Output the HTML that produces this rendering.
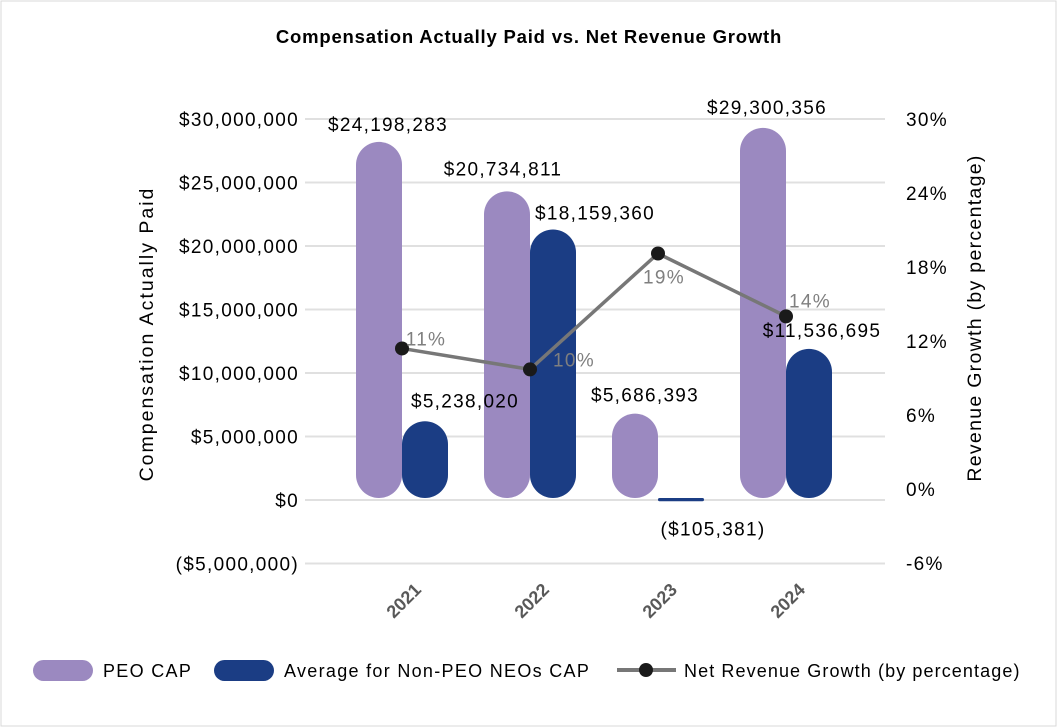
<!DOCTYPE html>
<html><head><meta charset="utf-8">
<style>
body{margin:0;background:#fff;}
svg{display:block;font-family:"Liberation Sans",sans-serif;}
.t{letter-spacing:1.3px;}
</style></head>
<body>
<svg width="1058" height="728" viewBox="0 0 1058 728">
<rect x="1" y="1" width="1055" height="725" fill="#fff" stroke="#d9d9d9"/>
<text x="529" y="43" text-anchor="middle" font-size="18.5" font-weight="bold" letter-spacing="0.8" fill="#000">Compensation Actually Paid vs. Net Revenue Growth</text>
<g id="grid"></g><g id="bars"></g><g id="line"></g><g id="labels"></g><g id="axes"></g>
<text transform="translate(153,334) rotate(-90)" text-anchor="middle" font-size="19.5" letter-spacing="2" fill="#000">Compensation Actually Paid</text>
<text class="t" transform="translate(981,318) rotate(-90)" text-anchor="middle" font-size="19.5" fill="#000">Revenue Growth (by percentage)</text>
<g>
<g><rect x="33" y="660" width="60" height="21" rx="10.5" fill="#9b89c0"/><text class="t" x="103" y="677" font-size="18" fill="#000">PEO CAP</text></g>
<g><rect x="214" y="660" width="60" height="21" rx="10.5" fill="#1b3d84"/><text class="t" x="284" y="677" font-size="18" fill="#000">Average for Non-PEO NEOs CAP</text></g>
<g><line x1="617" y1="670" x2="676" y2="670" stroke="#777" stroke-width="4"/><circle cx="646" cy="670" r="7" fill="#1a1a1a"/><text x="684" y="677" font-size="18" letter-spacing="1.1" fill="#000">Net Revenue Growth (by percentage)</text></g>
</g>
</svg>
<script>
const categories=["2021","2022","2023","2024"];
const peoValues=[28.2,24.3,6.8,29.3];
const neoValues=[6.2,21.3,-0.1,11.9];
const peoLabels=["$24,198,283","$20,734,811","$5,686,393","$29,300,356"];
const neoLabels=["$5,238,020","$18,159,360","($105,381)","$11,536,695"];
const growthValues=[11.4,9.7,19.1,14.0];
const growthLabels=["11%","10%","19%","14%"];
const leftTicks=[30,25,20,15,10,5,0,-5];
const leftTickLabels=["$30,000,000","$25,000,000","$20,000,000","$15,000,000","$10,000,000","$5,000,000","$0","($5,000,000)"];
const rightTicks=[30,24,18,12,6,0,-6];
const rightTickLabels=["30%","24%","18%","12%","6%","0%","-6%"];

const NS="http://www.w3.org/2000/svg";
const yL=v=>500-v*12.7;
const yR=v=>489-v*12.33;
const xC=i=>402+128*i;
function mk(tag,attrs,parent,txt){const e=document.createElementNS(NS,tag);for(const k in attrs)e.setAttribute(k,attrs[k]);if(txt!=null)e.textContent=txt;document.getElementById(parent).appendChild(e);return e;}

leftTicks.forEach((t,i)=>{
  const g=mk('line',{x1:305,x2:885,y1:yL(t),y2:yL(t),stroke:'#e0e0e0','stroke-width':2},'grid');
  
  
  const l=mk('text',{x:299,y:yL(t)+7,'text-anchor':'end','font-size':19,'class':'t',fill:'#000'},'axes',leftTickLabels[i]);
  
  
});
rightTicks.forEach((t,i)=>{
  const l=mk('text',{x:906,y:yR(t)+7,'font-size':19,'class':'t',fill:'#000'},'axes',rightTickLabels[i]);
  
  
});
const W=46;
function pill(x,v,color,name){
  const y0=yL(0)-2, y1=yL(v);
  let top=Math.min(y0,y1), h=Math.abs(y0-y1);
  if(h<3){top=y0-1;h=2;}
  const r=mk('rect',{x:x,y:top,width:W,height:h,rx:Math.min(W/2,h/2),fill:color},'bars');
  
  
}
categories.forEach((c,i)=>{
  pill(xC(i)-W,peoValues[i],'#9b89c0','bar-peo-'+c);
  pill(xC(i),neoValues[i],'#1b3d84','bar-neo-'+c);
  const xl=mk('text',{transform:`translate(${xC(i)+6},${605}) rotate(-45)`,'text-anchor':'middle','font-size':18,'font-weight':'bold',fill:'#595959'},'axes',c);
  
  
});
const peoOff=[[9,-11],[-4,-16],[10,-12],[4,-14]];
const neoOff=[[40,-14],[42,-10],[32,34],[13,-12]];
categories.forEach((c,i)=>{
  const a=mk('text',{x:xC(i)-W/2+peoOff[i][0],y:yL(peoValues[i])+peoOff[i][1],'text-anchor':'middle','font-size':19,'class':'t',fill:'#000'},'labels',peoLabels[i]);
  
  
  const b=mk('text',{x:xC(i)+W/2+neoOff[i][0]-W/2+W/2,y:yL(neoValues[i])+neoOff[i][1],'text-anchor':'middle','font-size':19,'class':'t',fill:'#000'},'labels',neoLabels[i]);
  
  
});
const pts=growthValues.map((v,i)=>xC(i)+','+yR(v)).join(' ');
const pl=mk('polyline',{points:pts,fill:'none',stroke:'#777','stroke-width':3.5},'line');


const gOff=[[24,-3],[44,-3],[6,30],[24,-9]];
growthValues.forEach((v,i)=>{
  const d=mk('circle',{cx:xC(i),cy:yR(v),r:7,fill:'#1a1a1a'},'line');
  
  
  const t=mk('text',{x:xC(i)+gOff[i][0],y:yR(v)+gOff[i][1],'text-anchor':'middle','font-size':19,'class':'t',fill:'#7f7f7f'},'labels',growthLabels[i]);
  
  
});
</script>
</body></html>
